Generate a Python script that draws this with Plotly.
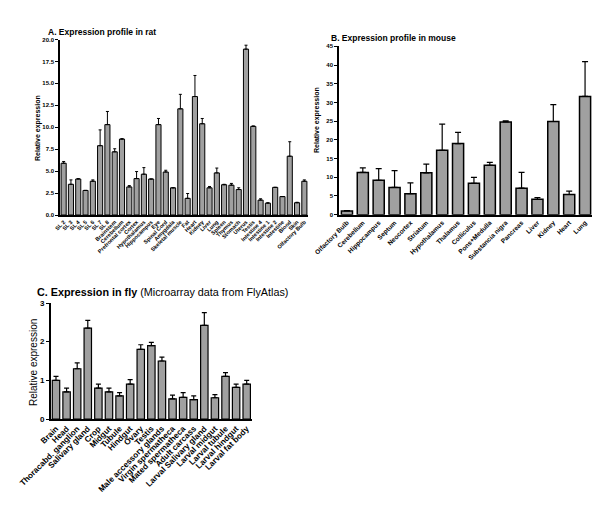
import plotly.graph_objects as go

# ---------- Data ----------
rat_labels = ["SL 2", "SL 3", "SL 4", "SL 5", "SL 6", "SL 7", "SL 8", "Brainstem", "Cerebellum",
              "Prefrontal cortex", "Cortex", "Hypothalamus", "Hippocampus", "Eye", "Spinal Cord",
              "Amygdala", "Skeletal muscle", "Fat", "Heart", "Kidney", "Liver", "Lung", "Spleen",
              "Thymus", "Stomach", "Uterus", "Testis", "Intestine 4", "Intestine 1", "Intestine 2",
              "Intestine", "Blood", "Skin", "Olfactory Bulb"]
rat_values = [5.9, 3.5, 4.1, 2.8, 3.85, 7.9, 10.3, 7.2, 8.65, 3.2, 4.15, 4.65, 4.1, 10.3, 4.9,
              3.1, 12.1, 1.9, 13.5, 10.4, 3.1, 4.8, 3.45, 3.4, 2.9, 18.9, 10.1, 1.7, 1.35, 3.15,
              2.1, 6.7, 1.4, 3.85]
rat_err = [0.2, 0.5, 0.05, 0.0, 0.15, 1.8, 1.5, 0.35, 0.05, 0.15, 0.8, 0.75, 0.0, 0.7, 0.2,
           0.0, 1.65, 0.55, 2.4, 0.6, 0.15, 0.55, 0.05, 0.2, 0.2, 0.45, 0.05, 0.15, 0.05, 0.0,
           0.0, 1.65, 0.05, 0.15]

mouse_labels = ["Olfactory Bulb", "Cerebellum", "Hippocampus", "Septum", "Neocortex", "Striatum",
                "Hypothalamus", "Thalamus", "Colliculus", "Pons+Medulla", "Substancia nigra",
                "Pancreas", "Liver", "Kidney", "Heart", "Lung"]
mouse_values = [1.0, 11.3, 9.2, 7.3, 5.6, 11.2, 17.2, 19.0, 8.4, 13.2, 24.8, 7.1, 4.1, 24.9, 5.4, 31.6]
mouse_err = [0.1, 1.2, 3.1, 4.5, 2.9, 2.3, 7.0, 3.0, 1.6, 0.8, 0.3, 4.2, 0.5, 4.5, 0.9, 9.3]

fly_labels = ["Brain", "Head", "Thoracabd. ganglion", "Salivary gland", "Crop", "Midgut", "Tubule",
              "Hindgut", "Ovary", "Testis", "Male accessory glands", "Virgin spermatheca",
              "Mated spermatheca", "Adult carcass", "Larval Salivary gland", "Larval midgut",
              "Larval tubule", "Larval hindgut", "Larval fat body"]
fly_values = [1.0, 0.7, 1.3, 2.35, 0.8, 0.7, 0.6, 0.9, 1.8, 1.9, 1.5, 0.52, 0.56, 0.5, 2.42,
              0.55, 1.1, 0.82, 0.9]
fly_err = [0.1, 0.1, 0.15, 0.2, 0.1, 0.1, 0.08, 0.12, 0.12, 0.08, 0.1, 0.1, 0.12, 0.1, 0.33,
           0.08, 0.1, 0.08, 0.1]

FONT = "Liberation Sans, Arial, sans-serif"
BAR = "#a0a0a0"

def bold(lst):
    return ["<b>%s</b>" % s for s in lst]

fig = go.Figure()

def add_bars(labels, values, err, xa, ya, lw, cap, thick):
    fig.add_trace(go.Bar(
        x=bold(labels), y=values, xaxis=xa, yaxis=ya,
        marker=dict(color=BAR, line=dict(color="black", width=lw)),
        error_y=dict(type="data", symmetric=False, array=err, arrayminus=[0] * len(err),
                     color="black", thickness=thick, width=cap),
        showlegend=False, hoverinfo="x+y"))

add_bars(rat_labels, rat_values, rat_err, "x", "y", 1, 1.5, 1)
add_bars(mouse_labels, mouse_values, mouse_err, "x2", "y2", 1.5, 3, 1.2)
add_bars(fly_labels, fly_values, fly_err, "x3", "y3", 1.2, 2.5, 1.2)

W, H = 600, 506
def px(x): return x / W
def py(y): return 1 - y / H

ycommon = dict(showline=True, linecolor="black", showgrid=False, zeroline=False,
               ticks="outside", ticklen=3, tickcolor="black", tickwidth=1,
               automargin=False, linewidth=1.5)

def xcommon(labels, size):
    return dict(tickmode="array", tickvals=bold(labels), ticktext=bold(labels),
                tickangle=-45, tickfont=dict(size=size, family=FONT), ticks="",
                showline=True, linecolor="black", linewidth=1.5, showgrid=False,
                automargin=False)

fig.update_layout(
    width=W, height=H, margin=dict(l=0, r=0, t=0, b=0),
    plot_bgcolor="white", paper_bgcolor="white", bargap=0.3,
    font=dict(family=FONT, color="black"),
    xaxis=dict(domain=[px(52), px(300)], anchor="y", **xcommon(rat_labels, 5.5)),
    yaxis=dict(domain=[py(207), py(31.5)], anchor="x", range=[0, 20], dtick=2.5,
               tickformat=".1f", tickfont=dict(size=6, family=FONT, weight="bold"), **ycommon),
    xaxis2=dict(domain=[px(331), px(585)], anchor="y2", **xcommon(mouse_labels, 6.5)),
    yaxis2=dict(domain=[py(206.7), py(38.3)], anchor="x2", range=[0, 45], dtick=5,
                tickfont=dict(size=6, family=FONT, weight="bold"), **ycommon),
    xaxis3=dict(domain=[px(42.7), px(244)], anchor="y3", **xcommon(fly_labels, 8.2)),
    yaxis3=dict(domain=[py(411), py(295)], anchor="x3", range=[0, 3], dtick=1,
                tickfont=dict(size=8, family=FONT, weight="bold"), **ycommon),
)

ann = [
    dict(text="<b>A. Expression profile in rat</b>", x=px(38), y=py(24), size=8.5, angle=0, xa="left"),
    dict(text="<b>B. Expression profile in mouse</b>", x=px(321), y=py(30), size=8.5, angle=0, xa="left"),
    dict(text="<b>C. Expression in fly</b> (Microarray data from FlyAtlas)", x=px(27), y=py(284),
         size=10.8, angle=0, xa="left"),
    dict(text="<b>Relative expression</b>", x=px(30), y=py(120), size=7, angle=-90, xa="center"),
    dict(text="<b>Relative expression</b>", x=px(309), y=py(112), size=7, angle=-90, xa="center"),
    dict(text="Relative expression", x=px(25), y=py(355), size=10, angle=-90, xa="center"),
]
for a in ann:
    fig.add_annotation(text=a["text"], x=a["x"], y=a["y"], xref="paper", yref="paper",
                       showarrow=False, textangle=a["angle"], xanchor=a["xa"], yanchor="middle",
                       font=dict(size=a["size"], family=FONT, color="black"))

fig.write_html("out.html")
